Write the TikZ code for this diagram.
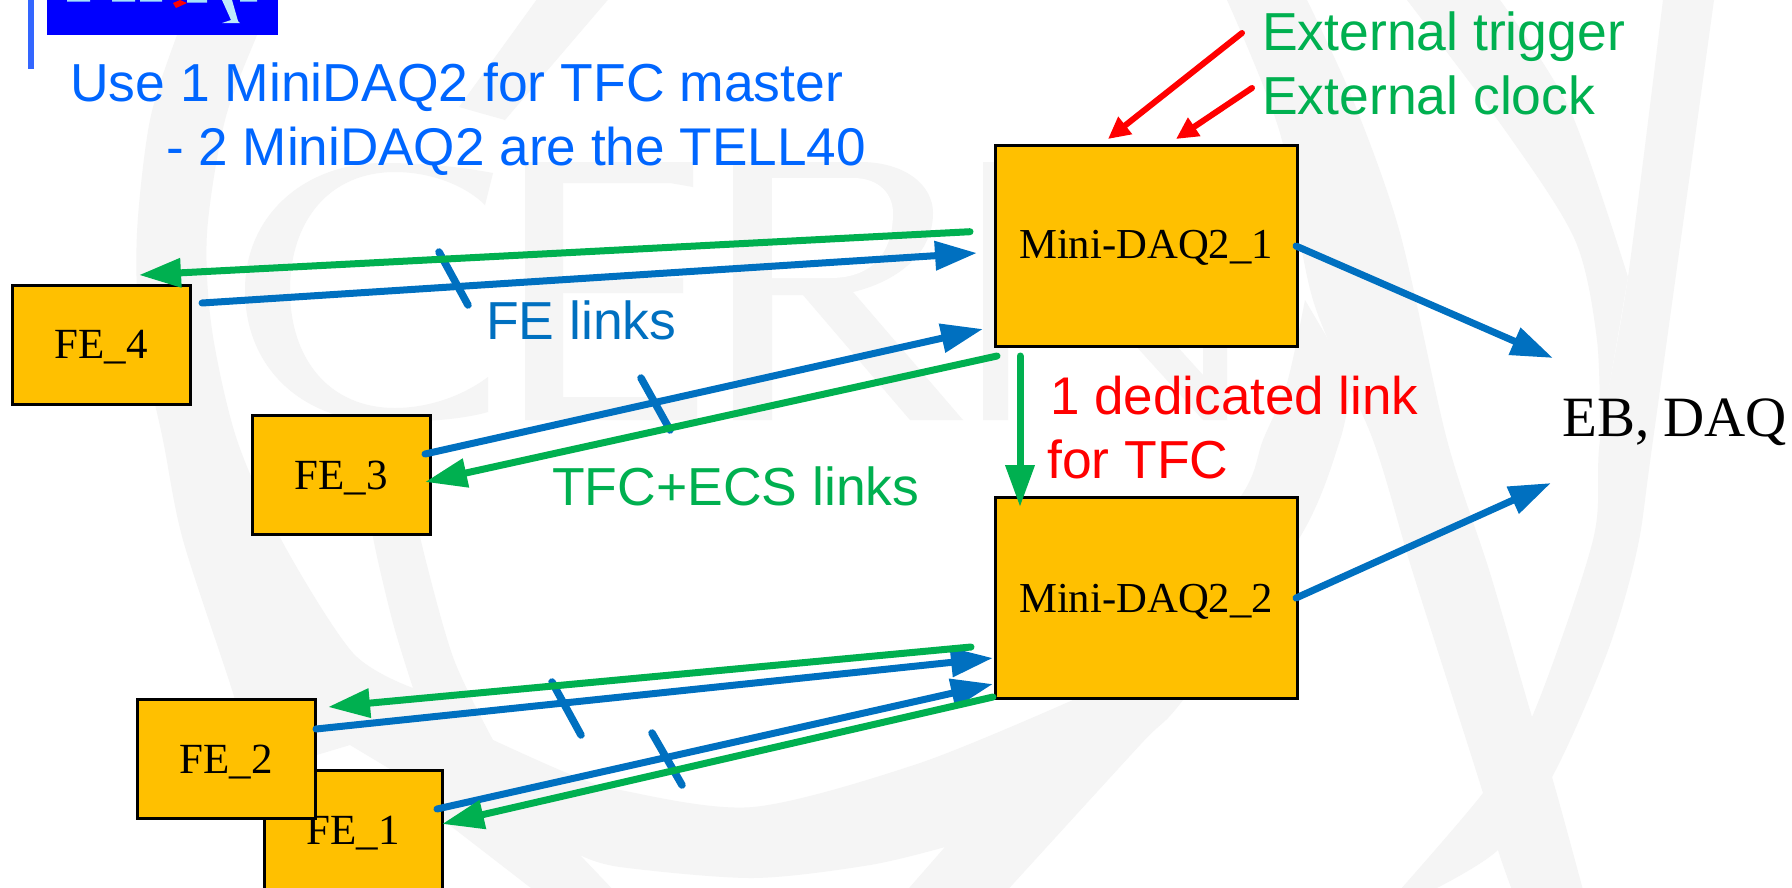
\documentclass[tikz,border=0pt]{standalone}
\usepackage{fontspec}
\setmainfont{Liberation Serif}
\newfontfamily\lsans{Liberation Sans}
\usetikzlibrary{arrows.meta}
\definecolor{wm}{HTML}{F5F5F5}
\definecolor{boxc}{HTML}{FFC000}
\definecolor{linkblue}{HTML}{0070C0}
\definecolor{linkgreen}{HTML}{00B050}
\definecolor{titleblue}{HTML}{0066FF}
\definecolor{rulec}{HTML}{3366FF}
\tikzset{
 febox/.style={draw=black,line width=3pt,fill=boxc,inner sep=0pt,minimum width=178pt,minimum height=119pt,text height=#1pt,text depth=0pt,font=\fontsize{43}{50}\selectfont},
 minibox/.style={draw=black,line width=3pt,fill=boxc,inner sep=0pt,minimum width=302pt,minimum height=201pt,text height=#1pt,text depth=0pt,font=\fontsize{42.7}{50}\selectfont},
 lab/.style={anchor=base west,inner sep=0pt,font=\lsans\fontsize{53.5}{60}\selectfont},
 blink/.style={draw=linkblue,line width=7pt,line cap=round,-{Triangle[length=42pt,width=28pt]}},
 glink/.style={draw=linkgreen,line width=7pt,line cap=round,-{Triangle[length=42pt,width=28pt]}},
 rlink/.style={draw=red,line width=6pt,line cap=round,-{Triangle[length=22pt,width=21pt]}},
 tickm/.style={draw=linkblue,line width=7.5pt,line cap=round},
}
\begin{document}
\begin{tikzpicture}[x=1pt,y=-1pt]
\useasboundingbox (0,0) rectangle (1792,887);
\clip (0,0) rectangle (1792,887);
\fill[white] (0,0) rectangle (1792,887);
% watermark: ring and beams
\begin{scope}[wm]
\fill[wm] plot[smooth] coordinates {(200,-20)(177,35)(150,120)(137,233)(140,330)(163,440)(183,540)(233,693)(250,760)}
  -- (300,760) -- (350,745) -- (400,775) -- (443,820) -- (540,895) -- (618,895) -- (580,855)
  -- plot[smooth] coordinates {(580,855)(620,867)(753,878)(870,865)(945,847)} -- (903,895) -- (1003,895)
  -- plot[smooth] coordinates {(1003,895)(1140,745)(1183,700)(1300,537)(1340,440)(1352,380)}
  -- (1305,300)
  -- plot[smooth] coordinates {(1305,300)(1287,383)(1263,440)(1243,493)(1160,600)(1073,700)}
  -- plot[smooth] coordinates {(1073,700)(920,763)(753,807)(620,790)(567,773)(493,740)}
  -- plot[smooth] coordinates {(493,740)(453,657)(420,537)(408,470)} -- (365,470)
  -- plot[smooth] coordinates {(365,470)(373,537)(393,623)(413,688)}
  -- plot[smooth] coordinates {(413,688)(353,653)(283,543)(237,440)(212,330)(207,233)(225,120)(257,35)(280,-20)} -- cycle;
\fill[wm] (540,-5) -- (612,-5) -- (505,120) -- (459,107) -- cycle;
% right hand beams
\fill[wm] plot[smooth] coordinates {(1227,0)(1280,133)(1313,300)(1373,440)(1413,573)(1483,793)(1498,850)(1512,890)}
  -- plot[smooth] coordinates {(1583,890)(1552,777)(1532,717)(1490,573)(1447,440)(1400,233)(1353,100)(1307,0)} -- cycle;
\fill[wm] plot[smooth] coordinates {(1400,890)(1483,793)(1532,717)(1593,540)(1600,440)(1628,277)(1663,0)}
  -- (1714,0)
  -- plot[smooth] coordinates {(1714,0)(1653,440)(1637,550)(1607,653)(1552,777)(1498,850)(1433,890)} -- cycle;
\fill[wm] plot[smooth] coordinates {(1407,0)(1507,133)(1575,240)(1597,340)(1600,440)}
  -- (1628,277)
  -- plot[smooth] coordinates {(1628,277)(1570,110)(1500,0)} -- cycle;
% C
\fill[wm] (493,173) .. controls (455,166) and (420,163) .. (383,163)
  .. controls (305,163) and (245,215) .. (245,290)
  .. controls (245,370) and (305,422) .. (385,422)
  .. controls (420,422) and (460,420) .. (488,412) -- (488,377)
  .. controls (460,398) and (425,408) .. (395,408)
  .. controls (330,408) and (290,360) .. (290,290)
  .. controls (290,220) and (330,172) .. (395,172)
  .. controls (430,172) and (465,185) .. (485,205) -- cycle;
% E
\fill[wm] (525,162) -- (693,162) -- (693,187) -- (670,183) -- (563,183) -- (563,278) -- (683,278) -- (683,293) -- (563,293) -- (563,397) -- (697,397) -- (697,420) -- (525,420) -- cycle;
% R
\fill[wm] (733,162) -- (860,162) .. controls (905,162) and (933,185) .. (933,213)
  .. controls (933,255) and (895,282) .. (853,292) -- (963,420) -- (910,420) -- (803,295) -- (772,295) -- (772,420) -- (733,420) -- cycle;
\fill[white] (772,178) -- (853,178) .. controls (880,178) and (893,195) .. (893,213)
  .. controls (893,250) and (875,278) .. (830,278) -- (772,278) -- cycle;
% N
\fill[wm] (983,162) -- (1010,162) -- (1203,375) -- (1203,162) -- (1227,162) -- (1227,420) -- (1203,420) -- (1008,205) -- (1008,420) -- (983,420) -- cycle;
\end{scope}
% header rule and logo
\fill[rulec] (28,0) rectangle (34,69);
\fill[blue] (47,0) rectangle (278,35);
\fill[cyan!35!white] (67,0) rectangle (90,1.5) (112,0) rectangle (135,1.5) (140,0) rectangle (162,1.5) (187,0) rectangle (207,2.5) (240,0) rectangle (257,1.5);
\fill[cyan!25!white] (222,0) -- (232,0) -- (238,21) -- (240,23) -- (222,23) -- (231,20) -- cycle;
\fill[red] (173,3) -- (176,8) -- (187,3) -- (180,0) -- cycle;
% boxes
\node[febox=27] (fe4) at (101,344.5) {FE\_4};
\node[febox=29] (fe3) at (341,474.5) {FE\_3};
\node[febox=29] (fe1) at (353,829.5) {FE\_1};
\node[febox=29] (fe2) at (226,758.5) {FE\_2};
\node[minibox=25] (m1) at (1146,245.5) {Mini-DAQ2\_1};
\node[minibox=29] (m2) at (1146,598) {Mini-DAQ2\_2};
% texts
\node[lab,text=titleblue] (t1) at (70,101.5) {Use 1 MiniDAQ2 for TFC master};
\node[lab,text=titleblue,font=\lsans\fontsize{53.1}{60}\selectfont] (t2) at (166,165.5) {- 2 MiniDAQ2 are the TELL40};
\node[lab,text=linkblue] (felinks) at (486,339.5) {FE links};
\node[lab,text=linkgreen] (tfclinks) at (552,505.5) {TFC+ECS links};
\node[lab,text=linkgreen] (exttrig) at (1262,50.5) {External trigger};
\node[lab,text=linkgreen] (extclk) at (1262,114.5) {External clock};
\node[lab,text=red,font=\lsans\fontsize{53}{60}\selectfont] (ded1) at (1050,414.5) {1 dedicated link};
\node[lab,text=red] (ded2) at (1047,478.5) {for TFC};
\node[anchor=base west,inner sep=0pt,font=\fontsize{57}{64}\selectfont] (eb) at (1562,436) {EB, DAQ};
% connector ends
\coordinate (a1) at (202,303); \coordinate (a2) at (977,253);
\coordinate (b1) at (970,231.7); \coordinate (b2) at (139,275);
\coordinate (c1) at (425,454); \coordinate (c2) at (983,329);
\coordinate (d1) at (997,356); \coordinate (d2) at (425,482);
\coordinate (e1) at (1020,356); \coordinate (e2) at (1020,507);
\coordinate (f1) at (316,729); \coordinate (f2) at (993,658);
\coordinate (g1) at (971,647); \coordinate (g2) at (328,707);
\coordinate (h1) at (437,809); \coordinate (h2) at (993,684);
\coordinate (i1) at (993,697); \coordinate (i2) at (442,824);
\coordinate (j1) at (1296,246); \coordinate (j2) at (1553,358);
\coordinate (k1) at (1296,598); \coordinate (k2) at (1551,483);
\coordinate (r1) at (1242,33); \coordinate (r2) at (1108,139);
\coordinate (s1) at (1252,88); \coordinate (s2) at (1176,139);
\coordinate (t1a) at (439,252); \coordinate (t1b) at (468,305);
\coordinate (t2a) at (641,378); \coordinate (t2b) at (670,430);
\coordinate (t3a) at (552,682); \coordinate (t3b) at (581,735);
\coordinate (t4a) at (652,733); \coordinate (t4b) at (682,785);
% ticks below the links
\draw[tickm] (t1a) -- (t1b);
\draw[tickm] (t2a) -- (t2b);
\draw[tickm] (t3a) -- (t3b);
\draw[tickm] (t4a) -- (t4b);
% links
\draw[blink] (a1) -- (a2);
\draw[glink] (b1) -- (b2);
\draw[blink] (c1) -- (c2);
\draw[glink] (d1) -- (d2);
\draw[blink] (f1) -- (f2);
\draw[glink] (g1) -- (g2);
\draw[blink] (h1) -- (h2);
\draw[glink] (i1) -- (i2);
\draw[glink] (e1) -- (e2);
\draw[blink] (j1) -- (j2);
\draw[blink] (k1) -- (k2);
\draw[rlink] (r1) -- (r2);
\draw[rlink] (s1) -- (s2);
\end{tikzpicture}
\end{document}
